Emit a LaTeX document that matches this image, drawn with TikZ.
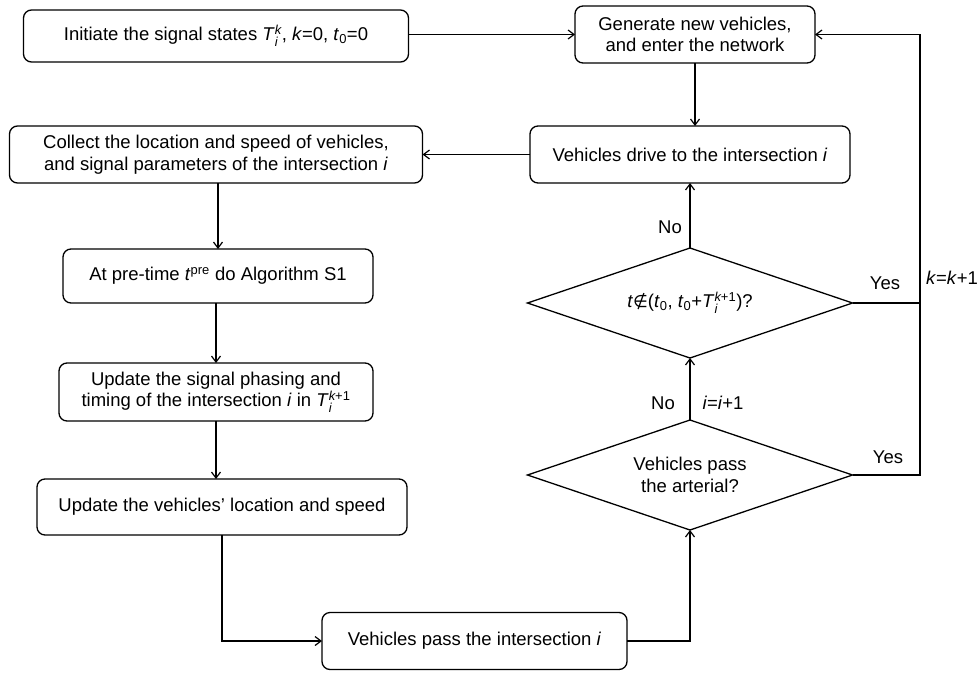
\documentclass[tikz,border=0pt]{standalone}
\usepackage{amsmath}
\usepackage{fontspec}
\setmainfont{Liberation Sans}
\newfontfamily\djv{DejaVu Sans}
\usetikzlibrary{shapes.geometric,arrows.meta}
\newcommand{\Tsym}[2]{\textit{T}$_{\text{\itshape #1}}^{\text{#2}}$}
\newcommand{\tzero}{\textit{t}$_{\text{0}}$}
\begin{document}
\begin{tikzpicture}[x=1pt,y=-1pt,
  every node/.style={font=\fontsize{18.5}{21.5}\selectfont, inner sep=0pt, outer sep=0pt},
  procbox/.style={draw, line width=1.3pt, rounded corners=8pt, align=center},
  decbox/.style={draw, line width=1.3pt, diamond, shape aspect=2.95, align=center,
                 minimum width=325pt, minimum height=110pt},
  conn/.style={line width=1.3pt},
  arr/.style={conn, -{Straight Barb[length=6pt,width=9pt,line width=1.2pt]}},
  lbl/.style={}
]
\useasboundingbox (0,0) rectangle (979,672);

\node[procbox, minimum width=385pt, minimum height=52pt] (init) at (216,36)
  {Initiate the signal states \Tsym{i}{\itshape k}, \textit{k}=0, \tzero=0};
\node[procbox, minimum width=240pt, minimum height=57pt] (gen) at (695,34.5)
  {Generate new vehicles,\\and enter the network};
\node[procbox, minimum width=413pt, minimum height=57pt] (collect) at (216,154.5)
  {Collect the location and speed of vehicles,\\and signal parameters of the intersection \textit{i}};
\node[procbox, minimum width=320pt, minimum height=57pt] (drive) at (690,154.5)
  {Vehicles drive to the intersection \textit{i}};
\node[procbox, minimum width=310pt, minimum height=54pt] (pre) at (218,276)
  {At pre-time \textit{t}$^{\text{pre}}$ do Algorithm S1};
\node[procbox, minimum width=314pt, minimum height=58pt] (upsig) at (216,392)
  {Update the signal phasing and\\timing of the intersection \textit{i} in \Tsym{i}{\itshape k\upshape+1}};
\node[procbox, minimum width=370pt, minimum height=56pt] (upveh) at (222,507)
  {Update the vehicles’ location and speed};
\node[procbox, minimum width=305pt, minimum height=57pt] (pass) at (474.5,641)
  {Vehicles pass the intersection \textit{i}};

\node[decbox] (d1) at (690,303)
  {\textit{t}{\djv\fontsize{17}{20}\selectfont ∉}(\tzero, \tzero+\Tsym{i}{\itshape k\upshape+1})?};
\node[decbox] (d2) at (690,475)
  {Vehicles pass\\the arterial?};

\coordinate (rail) at (920,34.5);

% connectors
\draw[arr] (init.east |- gen.west) -- (gen.west);
\draw[arr] (gen.south) -- (gen.south |- drive.north);
\draw[arr] (drive.west) -- (collect.east);
\draw[arr] (collect.south -| pre.north) -- (pre.north);
\draw[arr] (pre.south -| upsig.north) -- (upsig.north);
\draw[arr] (upsig.south) -- (upsig.south |- upveh.north);
\draw[arr] (upveh.south) -- (upveh.south |- pass.west) -- (pass.west);
\draw[arr] (pass.east) -- (pass.east -| d2.south) -- (d2.south);
\draw[arr] (d2.north) -- (d1.south);
\draw[arr] (d1.north) -- (drive.south);
\draw[conn] (d1.east) -- (d1.east -| rail);
\draw[arr] (d2.east) -- (d2.east -| rail) -- (rail) -- (gen.east);

% labels
\node[lbl] (yes1) at (885,283) {Yes};
\node[lbl] (kk) at (952,278) {\textit{k}=\textit{k}+1};
\node[lbl] (yes2) at (888,457) {Yes};
\node[lbl] (no1) at (670,227) {No};
\node[lbl] (no2) at (663,403) {No};
\node[lbl] (ii) at (723,403) {\textit{i}=\textit{i}+1};
\end{tikzpicture}
\end{document}
